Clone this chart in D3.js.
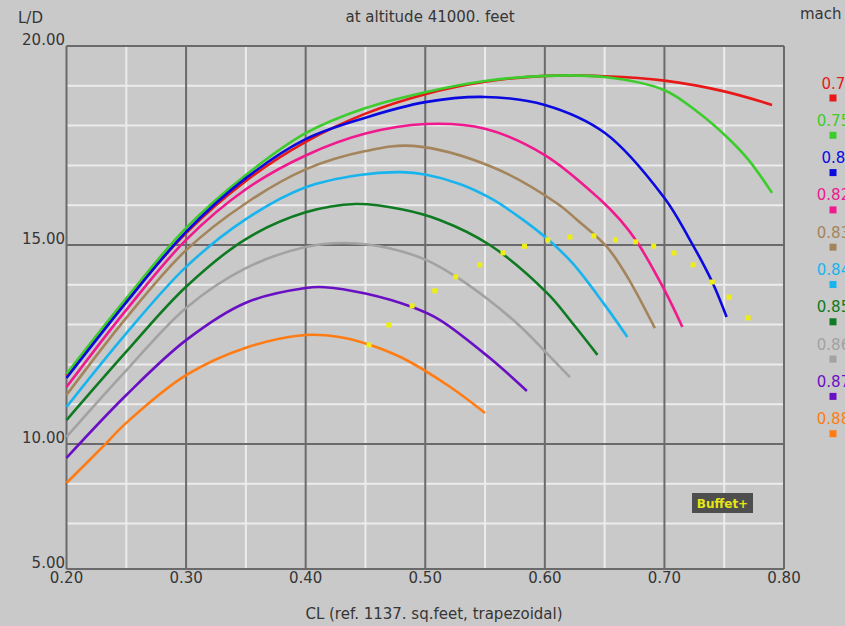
<!DOCTYPE html>
<html><head><meta charset="utf-8">
<script src="https://cdn.jsdelivr.net/npm/d3@7"></script>
<style>
html,body{margin:0;padding:0;background:#c9c9c9;overflow:hidden}
svg{display:block}
text{font-family:"DejaVu Sans",sans-serif}
</style></head><body>
<svg id="chart" width="845" height="626"></svg>
<script>
// Lift-to-drag ratio vs. lift coefficient, one curve per Mach number
const machLabels = ["0.7", "0.75", "0.8", "0.82", "0.83", "0.84", "0.85", "0.86", "0.87", "0.88"];
const machColors = ["#e81818", "#3ccc2c", "#0a0ae0", "#f0198e", "#a4845a", "#18b4ee", "#0e7a22", "#a2a2a2", "#6a10c4", "#ff7c14"];

const cl_070 = [0.20, 0.25, 0.30, 0.35, 0.40, 0.45, 0.50, 0.55, 0.60, 0.65, 0.70, 0.75, 0.79];
const ld_070 = [11.72, 13.60, 15.30, 16.61, 17.59, 18.30, 18.79, 19.10, 19.25, 19.24, 19.13, 18.86, 18.52];

const cl_075 = [0.20, 0.25, 0.30, 0.35, 0.40, 0.45, 0.50, 0.55, 0.60, 0.65, 0.70, 0.727, 0.752, 0.77, 0.79];
const ld_075 = [11.76, 13.66, 15.43, 16.76, 17.81, 18.44, 18.84, 19.12, 19.25, 19.22, 18.89, 18.36, 17.72, 17.15, 16.31];

const cl_080 = [0.20, 0.25, 0.30, 0.35, 0.40, 0.45, 0.50, 0.55, 0.60, 0.65, 0.70, 0.72, 0.74, 0.752];
const ld_080 = [11.66, 13.56, 15.33, 16.68, 17.66, 18.20, 18.59, 18.72, 18.52, 17.82, 16.18, 15.20, 14.07, 13.19];

const cl_082 = [0.20, 0.25, 0.30, 0.35, 0.40, 0.45, 0.50, 0.55, 0.60, 0.646, 0.663, 0.677, 0.70, 0.715];
const ld_082 = [11.43, 13.37, 15.13, 16.40, 17.25, 17.80, 18.04, 17.92, 17.26, 16.15, 15.63, 15.08, 13.87, 12.94];

const cl_083 = [0.20, 0.25, 0.30, 0.35, 0.40, 0.45, 0.49, 0.556, 0.61, 0.627, 0.652, 0.669, 0.692];
const ld_083 = [11.23, 13.17, 14.87, 16.05, 16.90, 17.36, 17.49, 16.96, 16.05, 15.63, 14.95, 14.20, 12.91];

const cl_084 = [0.20, 0.25, 0.30, 0.35, 0.40, 0.445, 0.48, 0.50, 0.53, 0.556, 0.581, 0.603, 0.623, 0.649, 0.669];
const ld_084 = [10.93, 12.78, 14.45, 15.65, 16.45, 16.76, 16.83, 16.77, 16.52, 16.15, 15.65, 15.13, 14.55, 13.54, 12.69];

const cl_085 = [0.20, 0.25, 0.30, 0.35, 0.40, 0.442, 0.48, 0.512, 0.554, 0.602, 0.623, 0.644];
const ld_085 = [10.60, 12.32, 13.95, 15.15, 15.82, 16.03, 15.90, 15.63, 15.00, 13.79, 13.04, 12.24];

const cl_086 = [0.20, 0.25, 0.30, 0.35, 0.40, 0.433, 0.47, 0.501, 0.526, 0.554, 0.58, 0.607, 0.621];
const ld_086 = [10.18, 11.85, 13.42, 14.42, 14.95, 15.05, 14.92, 14.62, 14.20, 13.60, 12.94, 12.11, 11.68];

const cl_087 = [0.20, 0.25, 0.30, 0.35, 0.40, 0.416, 0.45, 0.489, 0.512, 0.554, 0.585];
const ld_087 = [9.65, 11.23, 12.61, 13.55, 13.92, 13.94, 13.78, 13.44, 13.12, 12.16, 11.33];

const cl_088 = [0.20, 0.23, 0.25, 0.30, 0.35, 0.40, 0.428, 0.454, 0.481, 0.52, 0.55];
const ld_088 = [9.02, 9.92, 10.53, 11.73, 12.42, 12.74, 12.69, 12.49, 12.16, 11.45, 10.78];

// Buffet onset boundary
const buffetCL = [0.453, 0.4695, 0.489, 0.508, 0.5255, 0.5456, 0.565, 0.583, 0.6025, 0.621, 0.641, 0.659, 0.676, 0.691, 0.708, 0.724, 0.740, 0.754, 0.770];
const buffetLD = [12.49, 12.99, 13.47, 13.85, 14.20, 14.50, 14.80, 14.97, 15.13, 15.20, 15.23, 15.13, 15.08, 14.97, 14.80, 14.50, 14.07, 13.69, 13.17];

// Axis ticks
const xTicks = [0.20, 0.30, 0.40, 0.50, 0.60, 0.70, 0.80];
const xMinor = [0.25, 0.35, 0.45, 0.55, 0.65, 0.75];
const yTicks = [10, 15, 20];
const yMinor = [8, 9, 11, 12, 13, 14, 16, 17, 18, 19];
const yBottomLabel = "5.00";
const yBottomValue = 6.86;

const seriesCL = [cl_070, cl_075, cl_080, cl_082, cl_083, cl_084, cl_085, cl_086, cl_087, cl_088];
const seriesLD = [ld_070, ld_075, ld_080, ld_082, ld_083, ld_084, ld_085, ld_086, ld_087, ld_088];

const svg = d3.select("#chart");
const x = d3.scaleLinear().domain([0.20, 0.80]).range([66.5, 784]);
const y = d3.scaleLinear().domain([10, 20]).range([444, 46]);
const yBot = y(yBottomValue);

svg.append("rect").attr("width", 845).attr("height", 626).attr("fill", "#c9c9c9");

const grid = svg.append("g");
grid.selectAll(".vminor").data(xMinor).join("line")
  .attr("x1", d => x(d)).attr("x2", d => x(d)).attr("y1", y(20)).attr("y2", yBot)
  .attr("stroke", "#ececec").attr("stroke-width", 2);
grid.selectAll(".hminor").data(yMinor).join("line")
  .attr("x1", x(0.2)).attr("x2", x(0.8)).attr("y1", d => y(d)).attr("y2", d => y(d))
  .attr("stroke", "#ececec").attr("stroke-width", 2);
grid.selectAll(".vmajor").data(xTicks).join("line")
  .attr("x1", d => x(d)).attr("x2", d => x(d)).attr("y1", y(20)).attr("y2", yBot)
  .attr("stroke", "#6a6a6a").attr("stroke-width", 2);
grid.selectAll(".hmajor").data(yTicks).join("line")
  .attr("x1", x(0.2)).attr("x2", x(0.8)).attr("y1", d => y(d)).attr("y2", d => y(d))
  .attr("stroke", "#6a6a6a").attr("stroke-width", 2);
grid.append("line").attr("x1", x(0.2)).attr("x2", x(0.8)).attr("y1", yBot).attr("y2", yBot)
  .attr("stroke", "#6a6a6a").attr("stroke-width", 2);

// Tick labels
const lab = svg.append("g").attr("fill", "#363636").attr("font-size", 15);
lab.selectAll(".xl").data(xTicks).join("text")
  .attr("x", d => x(d)).attr("y", yBot + 14).attr("text-anchor", "middle")
  .text(d => d3.format(".2f")(d));
lab.selectAll(".yl").data(yTicks).join("text")
  .attr("x", 65).attr("y", d => y(d) - 1).attr("text-anchor", "end")
  .text(d => d3.format(".2f")(d));
lab.append("text").attr("x", 65).attr("y", yBot - 1).attr("text-anchor", "end").text(yBottomLabel);

lab.append("text").attr("x", 18).attr("y", 23).text("L/D");
lab.append("text").attr("x", 430).attr("y", 22).attr("text-anchor", "middle").text("at altitude 41000. feet");
lab.append("text").attr("x", 800).attr("y", 19).text("mach");
lab.append("text").attr("x", 434).attr("y", 619).attr("text-anchor", "middle").text("CL  (ref. 1137. sq.feet, trapezoidal)");

// Curves
const line = d3.line().x(d => x(d[0])).y(d => y(d[1])).curve(d3.curveCatmullRom.alpha(0.5));
const curves = svg.append("g").attr("fill", "none").attr("stroke-width", 2.6).attr("stroke-linejoin", "round");
seriesCL.forEach((cls, i) => {
  const pts = cls.map((c, j) => [c, seriesLD[i][j]]);
  curves.append("path").attr("d", line(pts)).attr("stroke", machColors[i]);
});

// Buffet boundary markers
svg.append("g").selectAll("rect").data(buffetCL.map((c, i) => [c, buffetLD[i]])).join("rect")
  .attr("x", d => x(d[0]) - 2.5).attr("y", d => y(d[1]) - 2.5)
  .attr("width", 5).attr("height", 5).attr("fill", "#eeee14");

// Legend
const leg = svg.append("g").attr("font-size", 15);
machLabels.forEach((m, i) => {
  leg.append("text").attr("x", 833.5).attr("y", 88.5 + i * 37.3).attr("text-anchor", "middle")
    .attr("fill", machColors[i]).text(m);
  leg.append("rect").attr("x", 829.5).attr("y", 94.5 + i * 37.3).attr("width", 7).attr("height", 7)
    .attr("fill", machColors[i]);
});

// Buffet key
const bk = svg.append("g");
bk.append("rect").attr("x", 692).attr("y", 493).attr("width", 61).attr("height", 20).attr("fill", "#4e4e4e");
bk.append("text").attr("x", 722.5).attr("y", 507.5).attr("text-anchor", "middle")
  .attr("font-size", 12).attr("font-weight", "bold").attr("fill", "#e6e614").text("Buffet+");
</script>
</body></html>
